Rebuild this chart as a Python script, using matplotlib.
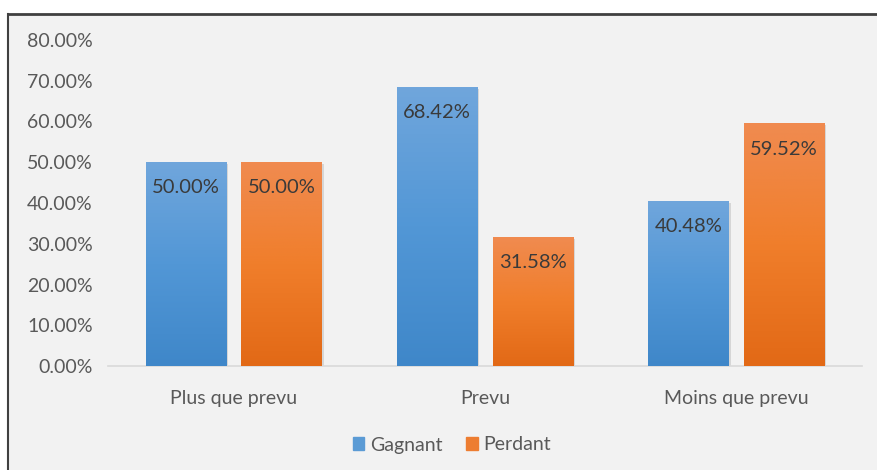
import numpy as np
import matplotlib.pyplot as plt
from matplotlib.lines import Line2D
from matplotlib.patches import Rectangle
from matplotlib.colors import LinearSegmentedColormap

categories = ['Plus que prevu', 'Prevu', 'Moins que prevu']
gagnant = [0.5000, 0.6842, 0.4048]
perdant = [0.5000, 0.3158, 0.5952]
series_names = ['Gagnant', 'Perdant']

plt.rcParams['font.family'] = ['Lato', 'DejaVu Sans']

fig = plt.figure(figsize=(8.77, 4.70), dpi=100, facecolor='white')
W, H = 877, 470

# chart area background + dark border (top and left)
fig.patches.append(Rectangle((8 / W, 0), 1, 1 - 14 / H, transform=fig.transFigure,
                             facecolor='#F2F2F2', edgecolor='none', zorder=-10))
fig.lines.append(Line2D([8 / W, 1], [1 - 14 / H] * 2, transform=fig.transFigure,
                        color='#404040', lw=2, zorder=-5))
fig.lines.append(Line2D([8 / W] * 2, [0, 1 - 14 / H], transform=fig.transFigure,
                        color='#404040', lw=1.5, zorder=-5))

ax = fig.add_axes([108 / W, (H - 366) / H, (862 - 108) / W, (366 - 40) / H])
ax.set_facecolor('none')
ax.set_zorder(2)

x = np.arange(len(categories))
width = 0.32
offset = 0.19

grads = {
    'Gagnant': LinearSegmentedColormap.from_list('g', ['#3F87C9', '#5297D6', '#70A6DC']),
    'Perdant': LinearSegmentedColormap.from_list('p', ['#E26916', '#F07E2B', '#F08B50']),
}
flat = {'Gagnant': '#5B9BD5', 'Perdant': '#ED7D31'}

for vals, name, sgn in [(gagnant, 'Gagnant', -1), (perdant, 'Perdant', 1)]:
    # soft shadow
    ax.bar(x + sgn * offset + 0.008, vals, width, bottom=-0.004, color='#BBBBBB',
           alpha=0.5, zorder=1)
    bars = ax.bar(x + sgn * offset, vals, width, color=flat[name], label=name, zorder=2)
    grad = np.linspace(0, 1, 256).reshape(-1, 1)
    for b, v in zip(bars, vals):
        x0 = b.get_x()
        ax.imshow(grad, cmap=grads[name], origin='lower', aspect='auto',
                  extent=(x0, x0 + b.get_width(), 0, v), zorder=3)
        ax.text(b.get_x() + b.get_width() / 2, v - 0.063, f'{v * 100:.2f}%',
                ha='center', va='center', fontsize=14.5, color='#3A3A3A', zorder=4)

ax.set_xlim(-0.5, 2.5)
ax.set_ylim(0, 0.8)
ax.set_yticks(np.arange(0, 0.81, 0.1))
ax.set_yticklabels([f'{t * 100:.2f}%' for t in np.arange(0, 0.81, 0.1)])
ax.set_xticks(x)
ax.set_xticklabels(categories)
ax.tick_params(axis='both', length=0, labelsize=14, labelcolor='#595959')
ax.tick_params(axis='y', pad=11)
ax.tick_params(axis='x', pad=17)
for s in ['top', 'right', 'left']:
    ax.spines[s].set_visible(False)
ax.spines['bottom'].set_color('#D9D9D9')
ax.spines['bottom'].set_linewidth(1.2)

handles = [Rectangle((0, 0), 1, 1, color=flat[n]) for n in series_names]
fig.legend(handles, series_names, loc='center', bbox_to_anchor=(452 / W, 1 - 445 / H),
           ncol=2, frameon=False, fontsize=14, labelcolor='#595959',
           handlelength=0.6, handleheight=0.6, handletextpad=0.3, columnspacing=1.2)

fig.savefig('out.png', dpi=100, facecolor='white')
